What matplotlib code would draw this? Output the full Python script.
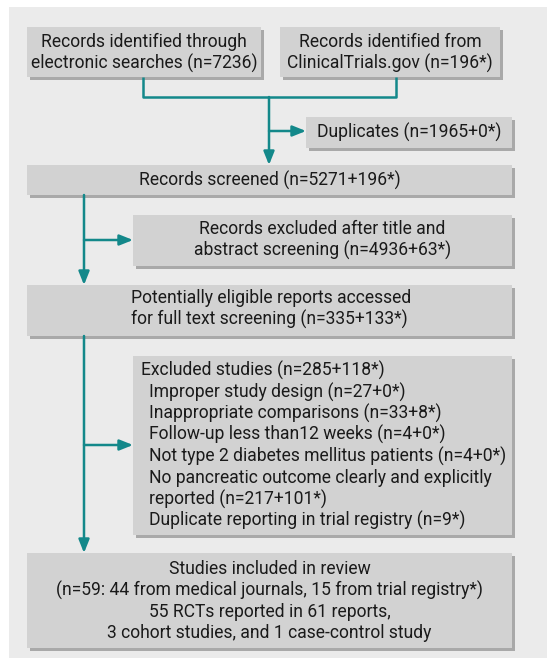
import matplotlib
matplotlib.use("Agg")
import matplotlib.pyplot as plt
from matplotlib.patches import Rectangle, FancyArrowPatch

plt.rcParams['font.family'] = ['Roboto', 'DejaVu Sans']

# ---- content ----
box_ident_search = ["Records identified through", "electronic searches (n=7236)"]
box_ident_ct = ["Records identified from", "ClinicalTrials.gov (n=196*)"]
box_duplicates = ["Duplicates (n=1965+0*)"]
box_screened = ["Records screened (n=5271+196*)"]
box_excl_title = ["Records excluded after title and", "abstract screening (n=4936+63*)"]
box_eligible = ["Potentially eligible reports accessed", "for full text screening (n=335+133*)"]
excl_heading = "Excluded studies (n=285+118*)"
excl_items = [
    "Improper study design (n=27+0*)",
    "Inappropriate comparisons (n=33+8*)",
    "Follow-up less than12 weeks (n=4+0*)",
    "Not type 2 diabetes mellitus patients (n=4+0*)",
    "No pancreatic outcome clearly and explicitly",
    "reported (n=217+101*)",
    "Duplicate reporting in trial registry (n=9*)",
]
box_included = [
    "Studies included in review",
    "(n=59: 44 from medical journals, 15 from trial registry*)",
    "55 RCTs reported in 61 reports,",
    "3 cohort studies, and 1 case-control study",
]

W, H = 547, 659
fig = plt.figure(figsize=(W / 100, H / 100), dpi=100)
ax = fig.add_axes([0, 0, 1, 1])
ax.set_xlim(0, W)
ax.set_ylim(H, 0)
ax.axis('off')

PANEL = '#ebebeb'
BOX = '#d2d2d2'
SHADOW = '#a9a9a9'
TEAL = '#13888a'
TXT = '#1a1a1a'
FS = 12.65
LH = 21.4

ax.add_patch(Rectangle((9, 7), W - 9, 651, facecolor=PANEL, edgecolor='none', zorder=0))


def box(x0, y0, x1, y1):
    ax.add_patch(Rectangle((x0 + 3, y0 + 3), x1 - x0, y1 - y0, facecolor=SHADOW,
                           edgecolor='none', zorder=1))
    ax.add_patch(Rectangle((x0, y0), x1 - x0, y1 - y0, facecolor=BOX,
                           edgecolor='none', zorder=2))


def lines(txt, x, yc, ha='center'):
    n = len(txt)
    for i, t in enumerate(txt):
        y = yc + (i - (n - 1) / 2) * LH
        ax.text(x, y, t, ha=ha, va='center', fontsize=FS, color=TXT, zorder=3)


def seg(pts):
    xs, ys = zip(*pts)
    ax.plot(xs, ys, color=TEAL, lw=1.8, solid_capstyle='butt', zorder=2)


def arrow(x0, y0, x1, y1):
    ax.add_patch(FancyArrowPatch((x0, y0), (x1, y1), arrowstyle='-|>,head_length=8,head_width=3.2',
                                 color=TEAL, lw=1.8, mutation_scale=1, shrinkA=0, shrinkB=0, zorder=2))


# boxes
box(27, 27, 261, 77); lines(box_ident_search, 144, 52.5)
box(280, 27, 500, 77); lines(box_ident_ct, 390, 52.5)
box(306, 117, 512, 148); lines(box_duplicates, 409, 132)
box(27, 165, 512, 195); lines(box_screened, 269.5, 180)
box(133, 215, 512, 266); lines(box_excl_title, 322.5, 240)
box(27, 285, 512, 336); lines(box_eligible, 131, 309, ha='left')
box(133, 356, 512, 535)
ax.text(141, 370, excl_heading, ha='left', va='center', fontsize=FS, color=TXT, zorder=3)
for i, t in enumerate(excl_items):
    ax.text(149, 392 + i * LH, t, ha='left', va='center', fontsize=FS, color=TXT, zorder=3)
box(27, 553, 512, 648); lines(box_included, 269.5, 601)

# connectors
seg([(143, 77), (143, 97), (396, 97), (396, 77)])
arrow(269, 97, 269, 165)
arrow(269, 131, 306, 131)
arrow(84, 195, 84, 285)
arrow(84, 240, 133, 240)
arrow(84, 336, 84, 553)
arrow(84, 445, 133, 445)

fig.savefig('out.png', dpi=100)
